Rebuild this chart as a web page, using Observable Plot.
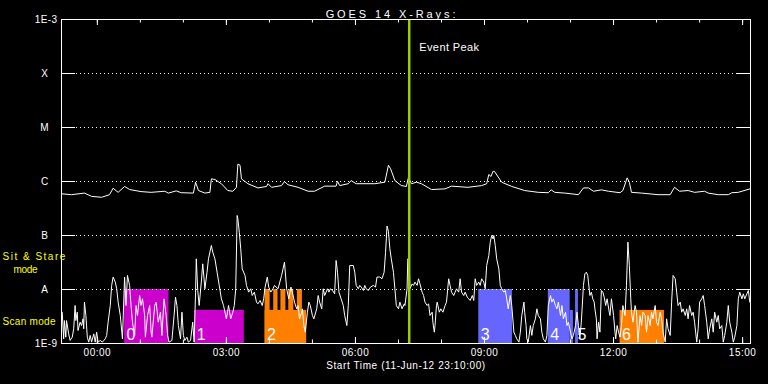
<!DOCTYPE html>
<html><head><meta charset="utf-8">
<script src="https://cdn.jsdelivr.net/npm/d3@7"></script>
<script src="https://cdn.jsdelivr.net/npm/@observablehq/plot@0.6"></script>
<style>html,body{margin:0;padding:0;background:#000;}</style>
</head><body><div id="chart"></div>
<script>
// ---- texts ----
const title = "GOES 14 X-Rays:";
const xLabel = "Start Time (11-Jun-12 23:10:00)";
const eventLabel = "Event Peak";
const stareLabel = ["Sit & Stare", "mode"];
const scanLabel = "Scan mode";

// ---- axes (time in minutes from 00:00 UT, 12-Jun-12) ----
const timeDomain = [-50, 911];
const minorTicks = [0, 60, 120, 180, 240, 300, 360, 420, 480, 540, 600, 660, 720, 780, 840, 900];
const majorTicks = [0, 180, 360, 540, 720, 900];
const majorLabels = ["00:00", "03:00", "06:00", "09:00", "12:00", "15:00"];
const yDomain = [1e-9, 1e-3];
const yTicks = [1e-9, 1e-8, 1e-7, 1e-6, 1e-5, 1e-4, 1e-3];
const yLabels = ["1E-9", "A", "B", "C", "M", "X", "1E-3"];
const gridLevels = [1e-8, 1e-7, 1e-6, 1e-5, 1e-4];
const eventPeak = 435;

// ---- GOES long channel (1-8 A), [minute, W/m^2] ----
const longChannel = [[-49,5.9e-7],[-36,5.7e-7],[-18,6.1e-7],[-8,5.3e-7],[6,5.1e-7],[17,5.7e-7],[22,7.5e-7],[29,6.3e-7],[38,8.1e-7],[45,7.1e-7],[61,6.5e-7],[75,6.3e-7],[94,6.6e-7],[99,6.1e-7],[110,6.7e-7],[117,6.2e-7],[134,6.1e-7],[137,9.7e-7],[141,6.8e-7],[150,6.1e-7],[157,6.3e-7],[159,1.12e-6],[164,1.09e-6],[173,9.1e-7],[182,6.8e-7],[189,6.6e-7],[194,7.8e-7],[196,2.1e-6],[199,2.0e-6],[201,1.12e-6],[210,9.1e-7],[224,7.6e-7],[236,8.1e-7],[238,9.1e-7],[243,7.8e-7],[257,8.4e-7],[261,1.0e-6],[266,8.7e-7],[280,7.8e-7],[294,6.6e-7],[303,6.6e-7],[317,8.2e-7],[333,8.2e-7],[335,1.01e-6],[338,8.4e-7],[350,9.1e-7],[354,1.04e-6],[361,9.1e-7],[387,9.1e-7],[401,9.7e-7],[406,2.0e-6],[409,1.72e-6],[415,1.04e-6],[424,8.4e-7],[431,8.1e-7],[434,1.2e-6],[438,9.1e-7],[445,9.7e-7],[452,9.1e-7],[466,7.1e-7],[485,7.3e-7],[494,8.2e-7],[517,7.8e-7],[536,8.4e-7],[543,9.1e-7],[546,1.35e-6],[549,1.24e-6],[552,1.55e-6],[554,1.53e-6],[564,9.7e-7],[578,8.1e-7],[596,6.8e-7],[615,6.3e-7],[629,6.2e-7],[633,7.0e-7],[638,6.3e-7],[652,6.1e-7],[671,5.7e-7],[678,7.6e-7],[685,7.6e-7],[692,6.6e-7],[703,7.0e-7],[713,6.6e-7],[729,6.2e-7],[733,6.8e-7],[739,1.17e-6],[742,9.7e-7],[745,6.3e-7],[759,6.1e-7],[782,5.7e-7],[799,5.7e-7],[805,7.8e-7],[812,6.6e-7],[824,6.8e-7],[833,6.3e-7],[847,6.6e-7],[852,6.1e-7],[866,5.7e-7],[880,5.7e-7],[885,6.2e-7],[894,6.3e-7],[910,7.3e-7]];

// ---- GOES short channel (0.5-4 A), [minute, W/m^2] ----
const shortChannel = [[-49,3.8e-9],[-47,1.22e-9],[-46,2.66e-9],[-44,1.31e-9],[-43,2.66e-9],[-40,1.51e-9],[-38,1.14e-9],[-35,1.31e-9],[-33,1.87e-9],[-31,5.05e-9],[-30,2.66e-9],[-28,3.8e-9],[-27,1.74e-9],[-24,2.48e-9],[-22,2.15e-9],[-20,2.86e-9],[-19,1.87e-9],[-18,5.83e-9],[-16,3.3e-9],[-14,1.31e-9],[-12,1.06e-9],[-10,1.41e-9],[-8,1.06e-9],[-5,1.51e-9],[-3,1.06e-9],[-1,1.62e-9],[1,1.06e-9],[4,1.14e-9],[7,1.06e-9],[11,1.22e-9],[13,1.41e-9],[15,2.48e-9],[18,5.05e-9],[20,1.19e-8],[22,1.70e-8],[25,1.37e-8],[27,1.03e-8],[29,5.83e-9],[32,3.3e-9],[35,1.22e-9],[38,1.70e-8],[40,5.05e-9],[42,1.82e-8],[45,1.19e-8],[47,5.05e-9],[49,2.48e-9],[52,1.41e-9],[54,5.05e-9],[56,3.3e-9],[59,7.74e-9],[61,5.05e-9],[63,6.72e-9],[66,3.3e-9],[67,1.31e-9],[70,3.3e-9],[73,5.05e-9],[75,1.62e-9],[76,1.31e-9],[80,5.05e-9],[82,5.83e-9],[85,2.48e-9],[88,3.8e-9],[90,1.41e-9],[93,6.72e-9],[96,3.3e-9],[98,1.41e-9],[100,1.06e-9],[104,1.14e-9],[107,3.3e-9],[109,7.21e-9],[111,5.05e-9],[113,2.15e-9],[116,1.22e-9],[118,3.8e-9],[120,1.41e-9],[122,1.14e-9],[125,1.31e-9],[127,1.06e-9],[130,1.14e-9],[133,2.48e-9],[135,1.06e-9],[137,8.93e-9],[138,3.7e-8],[140,9.6e-9],[142,5.05e-9],[145,1.37e-8],[147,2.99e-8],[150,1.03e-8],[153,2.09e-8],[155,3.7e-8],[159,6.53e-8],[161,4.91e-8],[164,3.7e-8],[167,2.09e-8],[170,1.19e-8],[173,6.72e-9],[176,5.05e-9],[180,2.86e-9],[183,5.05e-9],[186,2.86e-9],[189,3.8e-9],[191,5.05e-9],
[193,1.03e-8],[195,2.35e-7],[196,2.04e-7],[198,1.15e-7],[200,5.66e-8],[202,2.41e-8],[206,1.82e-8],[208,1.19e-8],[211,8.93e-9],[214,1.03e-8],[216,7.74e-9],[219,8.93e-9],[222,5.83e-9],[224,5.43e-9],[227,6.26e-9],[230,5.05e-9],[232,6.72e-9],[234,1.11e-8],[237,1.70e-8],[239,1.11e-8],[242,8.93e-9],[245,1.03e-8],[247,1.19e-8],[252,1.03e-8],[257,1.82e-8],[259,2.41e-8],[261,3.21e-8],[264,1.03e-8],[267,6.72e-9],[270,1.11e-8],[273,7.74e-9],[275,5.83e-9],[278,4.39e-9],[280,5.05e-9],[282,2.86e-9],[285,3.8e-9],[286,4.39e-9],[288,2.15e-9],[290,1.62e-9],[293,3.8e-9],[295,5.83e-9],[297,5.05e-9],[300,3.3e-9],[302,2.86e-9],[306,4.39e-9],[308,7.74e-9],[310,5.83e-9],[313,4.39e-9],[315,1.03e-8],[317,7.74e-9],[321,1.03e-8],[323,8.93e-9],[325,1.03e-8],[328,9.6e-9],[331,8.32e-9],[333,3.45e-8],[335,2.09e-8],[337,8.93e-9],[340,6.72e-9],[343,5.05e-9],[345,3.3e-9],[348,2.15e-9],[350,5.05e-9],[352,2.78e-8],[357,2.78e-8],[359,2.09e-8],[361,1.19e-8],[364,1.03e-8],[366,1.19e-8],[368,1.11e-8],[371,9.6e-9],[373,1.19e-8],[375,1.03e-8],[378,9.6e-9],[381,1.11e-8],[385,1.19e-8],[388,1.11e-8],[390,1.70e-8],[394,1.70e-8],[397,1.58e-8],[400,2.09e-8],[402,4.91e-8],[404,1.5e-7],[406,1.2e-7],[408,5.66e-8],[410,3.7e-8],[413,2.09e-8],[415,1.03e-8],[417,5.05e-9],[420,4.39e-9],[422,5.83e-9],[425,4.39e-9],[428,5.43e-9],
[429,5.05e-9],[432,1.03e-8],[433,3.7e-8],[435,3.21e-8],[436,1.03e-8],[439,1.27e-8],[441,1.19e-8],[443,1.37e-8],[446,1.19e-8],[448,1.58e-8],[450,1.27e-8],[453,8.93e-9],[455,7.74e-9],[457,5.83e-9],[460,5.05e-9],[462,5.43e-9],[464,3.3e-9],[467,3.8e-9],[468,2.48e-9],[470,1.62e-9],[471,2.15e-9],[473,5.05e-9],[474,5.83e-9],[477,3.8e-9],[479,4.39e-9],[482,3.8e-9],[485,5.05e-9],[487,5.83e-9],[490,1.58e-8],[492,1.19e-8],[494,8.93e-9],[497,7.74e-9],[499,8.93e-9],[501,1.03e-8],[504,8.93e-9],[506,1.58e-8],[508,8.93e-9],[511,7.74e-9],[513,8.93e-9],[516,7.21e-9],[518,6.72e-9],[520,6.26e-9],[523,7.74e-9],[525,6.26e-9],[527,1.58e-8],[529,1.19e-8],[532,1.37e-8],[534,1.19e-8],[536,1.58e-8],[539,1.37e-8],[541,1.03e-8],[543,2.78e-8],[546,4.26e-8],[548,7.53e-8],[550,1.0e-7],[552,8.67e-8],[553,1.0e-7],[555,6.53e-8],[557,3.7e-8],[560,2.41e-8],[562,1.19e-8],[564,1.03e-8],[567,8.93e-9],[569,9.6e-9],[571,6.72e-9],[573,4.39e-9],[576,7.74e-9],[578,5.05e-9],[581,1.62e-9],[583,1.41e-9],[585,1.22e-9],[588,1.06e-9],[590,1.62e-9],[592,3.3e-9],[595,5.83e-9],[596,3.8e-9],[598,2.15e-9],[599,1.22e-9],[601,1.06e-9],[604,2.15e-9],[606,1.41e-9],[608,2.15e-9],[611,2.86e-9],[613,4.39e-9],[615,3.3e-9],[618,2.86e-9],[620,1.62e-9],[622,1.22e-9],[625,1.06e-9],[627,1.41e-9],[629,5.05e-9],[632,7.74e-9],[634,5.83e-9],[636,6.72e-9],[639,5.05e-9],[641,4.39e-9],[643,5.83e-9],[646,3.3e-9],[648,5.05e-9],[650,2.86e-9],[653,3.8e-9],[655,2.15e-9],[657,2.48e-9],[660,1.62e-9],[662,1.22e-9],[664,1.41e-9],[667,2.15e-9],[669,3.8e-9],
[671,2.15e-9],[673,1.22e-9],[675,2.48e-9],[678,1.19e-8],[680,1.95e-8],[682,2.09e-8],[684,1.82e-8],[685,1.37e-8],[687,7.74e-9],[689,8.93e-9],[691,6.72e-9],[693,5.83e-9],[694,4.39e-9],[696,2.86e-9],[697,1.22e-9],[699,2.48e-9],[701,1.62e-9],[703,9.6e-9],[705,8.93e-9],[707,7.21e-9],[709,5.05e-9],[711,6.72e-9],[714,3.8e-9],[715,3.3e-9],[717,6.72e-9],[720,3.3e-9],[722,1.62e-9],[723,1.22e-9],[725,2.15e-9],[727,1.62e-9],[729,1.31e-9],[731,2.15e-9],[733,5.05e-9],[736,3.3e-9],[738,1.19e-8],[740,7.53e-8],[742,2.78e-8],[744,6.72e-9],[745,3.8e-9],[747,2.48e-9],[750,5.05e-9],[752,3.8e-9],[754,1.06e-9],[757,3.3e-9],[759,2.15e-9],[761,3.8e-9],[764,3.3e-9],[766,1.62e-9],[768,3.3e-9],[771,2.15e-9],[773,3.8e-9],[775,2.86e-9],[778,5.05e-9],[780,2.48e-9],[782,2.15e-9],[785,3.8e-9],[787,2.86e-9],[789,1.62e-9],[792,1.06e-9],[794,2.86e-9],[796,1.87e-9],[799,1.41e-9],[801,5.83e-9],[803,1.82e-8],[806,1.58e-8],[808,8.93e-9],[810,5.05e-9],[813,5.83e-9],[815,3.8e-9],[817,4.39e-9],[820,3.3e-9],[822,4.39e-9],[824,2.86e-9],[826,5.05e-9],[829,3.3e-9],[831,3.8e-9],[833,2.48e-9],[836,1.06e-9],[838,1.87e-9],[840,5.83e-9],[843,6.72e-9],[845,7.74e-9],[847,5.05e-9],[850,2.48e-9],[852,1.22e-9],[854,1.87e-9],[857,2.86e-9],[859,1.62e-9],[861,3.8e-9],[864,2.48e-9],[866,3.3e-9],[868,1.87e-9],[871,2.15e-9],[873,1.06e-9],[875,1.41e-9],[878,2.48e-9],[880,5.05e-9],[882,2.48e-9],[885,1.62e-9],[887,1.06e-9],[889,1.31e-9],[892,2.15e-9],[894,6.72e-9],[896,8.93e-9],[899,6.72e-9],[901,8.32e-9],[903,6.72e-9],[906,8.32e-9],[908,9.6e-9],[910,5.83e-9]];

// ---- observing mode intervals (minutes) ----
const stareLevel = 1e-8, scanLevel = 4.1e-9;
const magenta = "#cc00cc", orange = "#ff8000", blue = "#6666ff";
const modeStart = [38, 136, 234, 234, 246, 256, 267, 279, 532, 629, 659.5, 667, 729];
const modeEnd   = [100, 205, 292, 241, 252, 263, 274, 286, 579, 659.5, 664, 671, 791];
const modeTop   = [stareLevel, scanLevel, scanLevel, stareLevel, stareLevel, stareLevel, stareLevel, stareLevel, stareLevel, stareLevel, scanLevel, stareLevel, scanLevel];
const modeColor = [magenta, magenta, orange, orange, orange, orange, orange, orange, blue, blue, blue, blue, orange];
const modeNumbers = ["0", "1", "2", "3", "4", "5", "6"];
const modeNumberStart = [38, 136, 234, 532, 629, 667, 729];

const modes = modeStart.map((s, i) => ({start: s, end: modeEnd[i], top: modeTop[i], bottom: yDomain[0], color: modeColor[i]}));
const longData = longChannel.map(([t, f]) => ({t, f}));
const shortData = shortChannel.map(([t, f]) => ({t, f}));
const numbers = modeNumbers.map((n, i) => ({n, t: modeNumberStart[i], y: yDomain[0]}));
const yLetters = yTicks.map((v, i) => ({v, s: yLabels[i]})).filter(d => !d.s.startsWith("1E"));
const yExps = yTicks.map((v, i) => ({v, s: yLabels[i]})).filter(d => d.s.startsWith("1E"));

const W = 768, H = 384, ML = 61, MR = 18, MT = 19, MB = 41;
const fw = W - ML - MR, fh = H - MT - MB;
const white = "#ffffff", yellow = "#ffff00";
const font = "Liberation Sans, Arial, sans-serif";

const chart = Plot.plot({
  width: W, height: H,
  marginLeft: ML, marginRight: MR, marginTop: MT, marginBottom: MB,
  style: {background: "#000", color: white, fontFamily: font, fontSize: "10px"},
  x: {domain: timeDomain, axis: null},
  y: {type: "log", domain: yDomain, axis: null},
  color: {type: "identity"},
  marks: [
    Plot.rect(modes, {x1: "start", x2: "end", y1: "bottom", y2: "top", fill: "color"}),
    Plot.gridY(gridLevels, {stroke: white, strokeOpacity: 1, strokeDasharray: "1,3", insetLeft: 15, insetRight: 14}),
    Plot.text(numbers, {x: "t", y: "y", text: "n", fill: white, fontSize: 16, textAnchor: "start", dx: 2, dy: -9}),
    Plot.line(longData, {x: "t", y: "f", stroke: white, strokeWidth: 1, clip: true}),
    Plot.line(shortData, {x: "t", y: "f", stroke: white, strokeWidth: 1, clip: true}),
    Plot.ruleX([eventPeak], {stroke: "#9acd00", strokeWidth: 2.5}),
    Plot.text([eventLabel], {x: () => eventPeak, frameAnchor: "top", text: d => d, fill: white, fontSize: 11, textAnchor: "start", dx: 10, dy: 24}),
    // ticks
    Plot.tickY(yTicks, {y: d => d, stroke: white, insetRight: fw - 14}),
    Plot.tickY(yTicks, {y: d => d, stroke: white, insetLeft: fw - 14}),
    Plot.tickX(minorTicks, {x: d => d, stroke: white, insetTop: fh - 3.5}),
    Plot.tickX(minorTicks, {x: d => d, stroke: white, insetBottom: fh - 3.5}),
    Plot.tickX(majorTicks, {x: d => d, stroke: white, insetTop: fh - 6}),
    Plot.tickX(majorTicks, {x: d => d, stroke: white, insetBottom: fh - 6}),
    Plot.frame({stroke: white}),
    // axis labels
    Plot.text(majorTicks, {x: d => d, text: (d, i) => majorLabels[i], frameAnchor: "bottom", dy: 12.5, fill: white, fontSize: 10}),
    Plot.text(yLetters, {y: "v", text: "s", frameAnchor: "left", dx: -17, textAnchor: "middle", fill: white, fontSize: 10}),
    Plot.text(yExps, {y: "v", text: "s", frameAnchor: "left", dx: -4, textAnchor: "end", fill: white, fontSize: 10}),
    Plot.text([xLabel], {frameAnchor: "bottom", text: d => d, dy: 25, fill: white, fontSize: 10}),
    Plot.text([title], {frameAnchor: "top", text: d => d, dy: -9, dx: -14, fill: white, fontSize: 11}),
    Plot.text([stareLabel[0]], {frameAnchor: "bottom-left", text: d => d, dx: -59, dy: -84, textAnchor: "start", fill: yellow, fontSize: 10}),
    Plot.text([stareLabel[1]], {frameAnchor: "bottom-left", text: d => d, dx: -48, dy: -71, textAnchor: "start", fill: yellow, fontSize: 10}),
    Plot.text([scanLabel], {frameAnchor: "bottom-left", text: d => d, dx: -59, dy: -19, textAnchor: "start", fill: yellow, fontSize: 10})
  ]
});

// wider glyph spacing, like the original vector font
const spacing = new Map([[title, 2.9], [xLabel, 0.6], [stareLabel[0], 1.5], [stareLabel[1], -0.3], [scanLabel, 0.3], [eventLabel, 0.4], ["1E-3", 0.4], ["1E-9", 0.4]]);
majorLabels.forEach(l => spacing.set(l, 0.5));
d3.select(chart).selectAll("text").each(function() {
  const s = spacing.get(this.textContent);
  if (s !== undefined) this.style.letterSpacing = s + "px";
});
document.getElementById("chart").appendChild(chart);
</script>
</body></html>
